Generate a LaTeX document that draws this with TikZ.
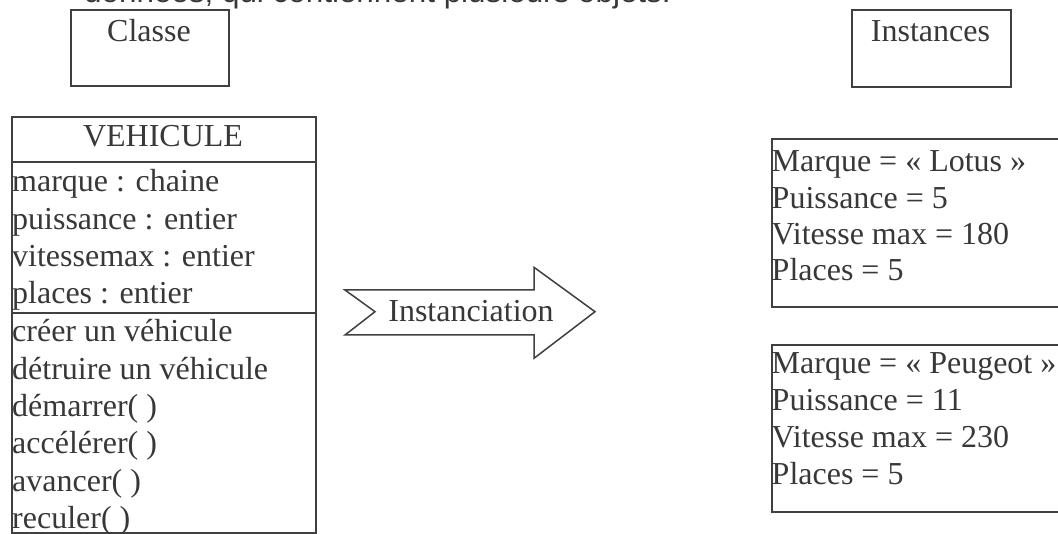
\documentclass[tikz,border=0pt]{standalone}
\usepackage{fontspec}
\setmainfont{Liberation Serif}
\newfontfamily\bodysans{Liberation Sans}
\definecolor{ink}{gray}{0.22}
\definecolor{frame}{gray}{0.25}
\tikzset{
  box/.style={draw=frame, line width=1.8pt, inner sep=0pt, anchor=north west},
  txt/.style={text=ink, inner sep=0pt, anchor=base west, font=\fontsize{32}{36.8}\selectfont},
  ctxt/.style={txt, anchor=base},
  caption/.style={text=ink, inner sep=0pt, anchor=base west, font=\bodysans\fontsize{31.4}{36}\selectfont},
}
\begin{document}
\begin{tikzpicture}[x=1pt, y=-1pt]
\useasboundingbox (0,0) rectangle (1058,534);
\clip (0,0) rectangle (1058,534);

% running text above the figure
\node[caption] (intro) at (84,3) {données, qui contiennent plusieurs objets.};

% headings
\node[box, minimum width=158pt, minimum height=76pt] (classbox) at (70,9) {};
\node[ctxt] (classlbl) at (149,41.5) {Classe};
\node[box, minimum width=159pt, minimum height=77pt] (instbox) at (851,9) {};
\node[ctxt] (instlbl) at (930.5,41.5) {Instances};

% the class VEHICULE
\node[box, minimum width=304pt, minimum height=416pt] (cls) at (11,116) {};
\coordinate (d1) at (11,162);
\coordinate (d2) at (11,313);
\draw[frame, line width=1.8pt] (d1) -- (d1 -| cls.east);
\draw[frame, line width=1.8pt] (d2) -- (d2 -| cls.east);
\node[ctxt] (clsname) at (163,146.5) {VEHICULE};

\foreach \t [count=\i from 0] in {marque : chaine, puissance : entier, vitessemax : entier, places : entier}
  \node[txt] (attr\i) at (12,192+37.3*\i) {\t};
\foreach \t [count=\i from 0] in {créer un véhicule, détruire un véhicule, démarrer( ), accélérer( ), avancer( ), reculer( )}
  \node[txt] (meth\i) at (12,342+37.3*\i) {\t};

% instanciation arrow
\draw[frame, line width=1.5pt, fill=white, line join=miter]
  (345,290) -- (534,290) -- (534,267.3) -- (595,311.7) -- (534,358.3)
  -- (534,335) -- (345,335) -- (375,311.7) -- cycle;
\node[ctxt] (instlabel) at (471,321.5) {Instanciation};

% the two objects
\node[box, minimum width=320pt, minimum height=167.5pt] (obj1) at (770.7,138.3) {};
\foreach \t [count=\i from 0] in {Marque = « Lotus », Puissance = 5, Vitesse max = 180, Places = 5}
  \node[txt] (oa\i) at (771.5,172+36.2*\i) {\t};

\node[box, minimum width=320pt, minimum height=166.7pt] (obj2) at (770.7,344) {};
\foreach \t [count=\i from 0] in {Marque = « Peugeot », Puissance = 11, Vitesse max = 230, Places = 5}
  \node[txt] (ob\i) at (771.5,374+37*\i) {\t};
\end{tikzpicture}
\end{document}
